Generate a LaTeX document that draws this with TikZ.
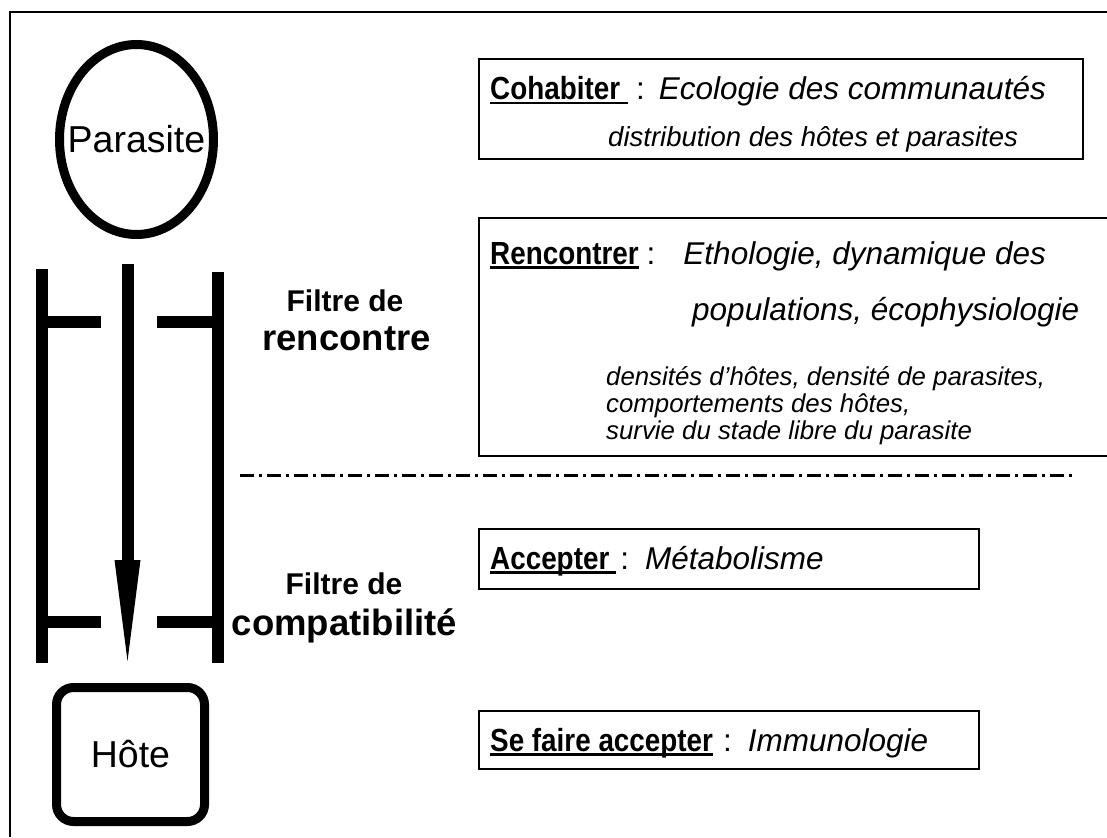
\documentclass[tikz,border=0pt]{standalone}
\usepackage{graphicx}
\usepackage{fontspec}
\setmainfont{Liberation Sans}
\usetikzlibrary{shapes.geometric}
\newcommand{\ulword}[1]{\setbox0\hbox{#1}\rlap{\rule[-4.5pt]{\wd0}{2.8pt}}\box0}
\newcommand{\bword}[1]{\scalebox{0.87}[1]{\fontsize{32}{36}\selectfont\bfseries #1}}
\begin{document}
\begin{tikzpicture}[x=1pt,y=-1pt,
  bar/.style={line width=12pt},
  box/.style={draw,line width=2pt,anchor=north west,inner sep=0pt},
  txt/.style={anchor=base west,inner sep=0pt},
  big/.style={font=\fontsize{31.5}{36}\selectfont},
  small/.style={font=\fontsize{25.8}{30}\selectfont\itshape},
  filt/.style={anchor=base,inner sep=0pt,font=\fontsize{30}{36}\selectfont\bfseries},
  filtbig/.style={anchor=base,inner sep=0pt,font=\fontsize{36.5}{42}\selectfont\bfseries}]
\useasboundingbox (0,0) rectangle (1107,837);
\draw[line width=1.5pt] (1107,12) -- (10,12) -- (10,837);
% left column
\node[inner sep=0pt,font=\fontsize{37.5}{42}\selectfont] (para) at (136.5,139.5) {Parasite};
\draw[line width=9pt] (para.center) ellipse [x radius=77pt,y radius=95pt];
\node[draw,rounded corners=17pt,line width=9pt,minimum width=148pt,minimum height=134pt,font=\fontsize{37.5}{42}\selectfont] (hote) at (130.5,754.5) {Hôte};
\coordinate (arrtop) at (127.5,264);
\coordinate (arrbase) at (127.5,560);
\coordinate (arrtip) at (127.5,661);
\draw[bar] (arrtop) -- ([yshift=-1pt]arrbase);
\fill ([xshift=-13pt]arrbase) -- ([xshift=13pt]arrbase) -- (arrtip) -- cycle;
\draw[bar] (42,269) -- (42,663);
\draw[bar] (218,272) -- (218,663);
\draw[bar] (48,322) -- (101,322);
\draw[bar] (157,322) -- (212,322);
\draw[bar] (48,622) -- (101,622);
\draw[bar] (157,622) -- (212,622);
% filter labels
\node[filt] (f1a) at (345,311) {Filtre de};
\node[filtbig] (f1b) at (346.5,350) {rencontre};
\node[filt] (f2a) at (344,594) {Filtre de};
\node[filtbig] (f2b) at (344.5,635) {compatibilité};
\draw[line width=3pt,dash pattern=on 14pt off 5pt on 3pt off 5pt] (240,475) -- (1075,475);
% right boxes
\node[box,minimum width=604pt,minimum height=100pt] (cohab) at (478,58) {};
\node[txt,big] (cohab1) at (490,100) {\ulword{\bword{Cohabiter}\hspace{8pt}}\hspace{8pt}:\hspace{14pt}\itshape Ecologie des communautés};
\node[txt,font=\fontsize{27.5}{32}\selectfont\itshape] (cohab2) at (608,147) {distribution des hôtes et parasites};
\node[box,minimum width=650pt,minimum height=238pt] (renc) at (478,217) {};
\node[txt,big] (renc1) at (490,264) {\ulword{\bword{Rencontrer}}\hspace{8pt}:\hspace{28pt}\itshape Ethologie, dynamique des};
\node[txt,big] (renc2) at (692,320) {\itshape populations, écophysiologie};
\node[txt,small] (renc3) at (606,385) {densités d’hôtes, densité de parasites,};
\node[txt,small] (renc4) at (606,412) {comportements des hôtes,};
\node[txt,small] (renc5) at (606,439) {survie du stade libre du parasite};
\node[box,minimum width=500pt,minimum height=60pt] (acc) at (478,528) {};
\node[txt,big] (acc1) at (490,569) {\ulword{\bword{Accepter}\hspace{7pt}}\hspace{4pt}:\hspace{16pt}\itshape Métabolisme};
\node[box,minimum width=500pt,minimum height=58pt] (sefa) at (478,710) {};
\node[txt,big] (sefa1) at (490,751) {\ulword{\bword{Se faire accepter}}\hspace{10pt}:\hspace{16pt}\itshape Immunologie};
\end{tikzpicture}
\end{document}
